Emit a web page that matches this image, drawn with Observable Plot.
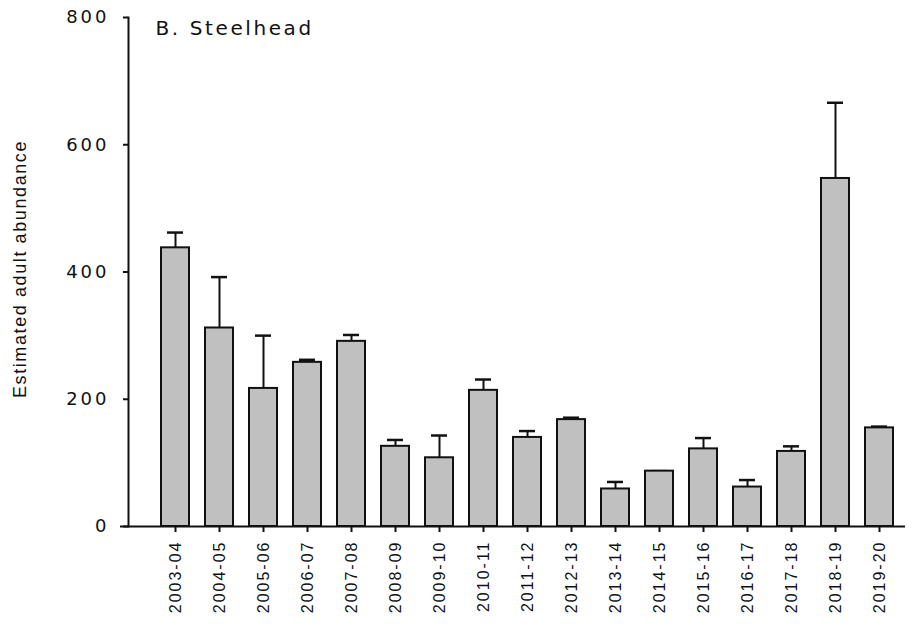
<!DOCTYPE html>
<html>
<head>
<meta charset="utf-8">
<script src="https://cdn.jsdelivr.net/npm/d3@7"></script>
<script src="https://cdn.jsdelivr.net/npm/@observablehq/plot@0.6"></script>
<style>
  html, body { margin: 0; padding: 0; background: #fff; }
  #chart svg { display: block; }
  #chart g[aria-label="y-axis tick label"] text { letter-spacing: 3px; }
  #chart g[aria-label="x-axis tick label"] text { letter-spacing: 2px; }
  #chart g[aria-label="text"] text { letter-spacing: 1.6px; }
  #chart g[aria-label="text"] text[aria-label="panel title"] { letter-spacing: 2.6px; }
</style>
</head>
<body>
<div id="chart"></div>
<script>
// Spawning seasons
const seasons = ["2003-04", "2004-05", "2005-06", "2006-07", "2007-08", "2008-09", "2009-10",
  "2010-11", "2011-12", "2012-13", "2013-14", "2014-15", "2015-16", "2016-17", "2017-18",
  "2018-19", "2019-20"];
// Estimated adult steelhead abundance per season
const abundance = [438, 312, 217, 258, 291, 126, 108, 214, 140, 168, 59, 87, 122, 62, 118, 547, 155];
// Standard error (upper whisker only)
const stdError = [24, 80, 83, 4, 10, 10, 35, 17, 10, 3, 11, 0, 17, 11, 8, 119, 2];
const yTicks = [0, 200, 400, 600, 800];

const rows = seasons.map((season, i) => ({
  season,
  value: abundance[i],
  upper: abundance[i] + stdError[i]
}));

const ink = "#111";

const chart = Plot.plot({
  width: 912,
  height: 626,
  marginLeft: 128,
  marginRight: 0,
  marginTop: 17,
  marginBottom: 100,
  style: {fontFamily: "'Liberation Sans', Arial, sans-serif", color: ink, background: "#fff"},
  x: {domain: seasons, paddingInner: 0.375, paddingOuter: 0.59, align: 0.63, label: null},
  y: {domain: [0, 800], label: null},
  marks: [
    // error whiskers and caps
    Plot.ruleX(rows, {x: "season", y1: "value", y2: "upper", stroke: ink, strokeWidth: 2}),
    Plot.tickY(rows, {x: "season", y: "upper", stroke: ink, strokeWidth: 2.5, insetLeft: 6, insetRight: 6}),
    // bars
    Plot.barY(rows, {x: "season", y: "value", fill: "#c0c0c0", stroke: ink, strokeWidth: 2}),
    // axes
    Plot.frame({anchor: "left", stroke: ink, strokeWidth: 2}),
    Plot.ruleY([0], {stroke: ink, strokeWidth: 2, insetLeft: -8, insetRight: 7}),
    Plot.axisY({ticks: yTicks, tickSize: 5, tickPadding: 14, fontSize: 18,
      fontFamily: "'DejaVu Sans', sans-serif", strokeWidth: 2, label: null}),
    Plot.axisX({tickSize: 6, tickPadding: 8, tickRotate: -90, fontSize: 16, strokeWidth: 2, label: null}),
    // panel title and y label
    Plot.text(["B. Steelhead"], {frameAnchor: "top-left", dx: 27, dy: 3, textAnchor: "start",
      lineAnchor: "top", fontSize: 20, fontFamily: "'DejaVu Sans', sans-serif", fill: ink,
      ariaLabel: () => "panel title"}),
    Plot.text(["Estimated adult abundance"], {frameAnchor: "left", dx: -108, dy: -3, rotate: -90,
      textAnchor: "middle", lineAnchor: "middle", fontSize: 18, fill: ink})
  ]
});

document.getElementById("chart").appendChild(chart);
</script>
</body>
</html>
